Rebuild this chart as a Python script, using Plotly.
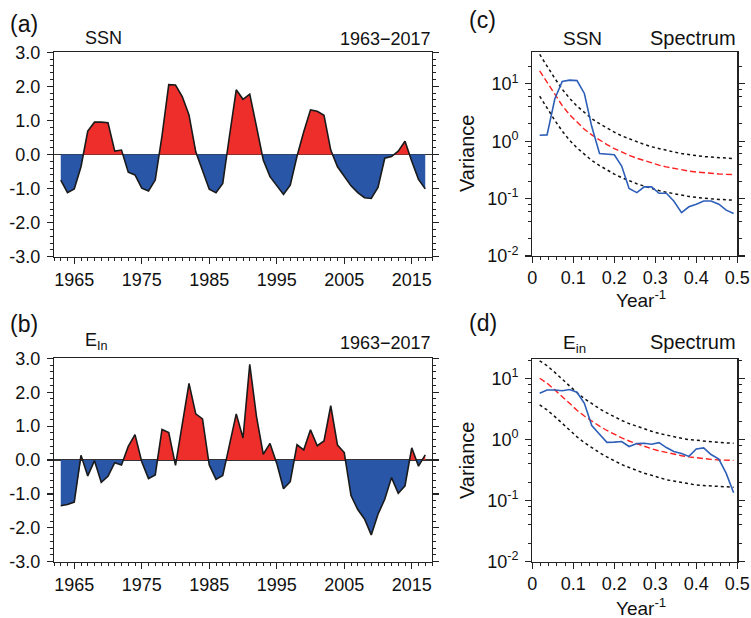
import plotly.graph_objects as go

# ---------------- data ----------------
years = list(range(1963, 2018))
ssn = [-0.75, -1.12, -1.01, -0.36, 0.69, 0.95, 0.95, 0.93, 0.10, 0.13,
       -0.52, -0.60, -0.99, -1.07, -0.75, 0.55, 2.05, 2.04, 1.70, 1.16,
       0.08, -0.45, -1.02, -1.12, -0.85, 0.55, 1.90, 1.62, 1.77, 0.82,
       -0.16, -0.65, -0.90, -1.17, -0.90, -0.05, 0.67, 1.31, 1.27, 1.15,
       0.13, -0.36, -0.64, -0.92, -1.12, -1.27, -1.29, -0.97, -0.11, -0.06,
       0.10, 0.39, -0.20, -0.73, -1.01]
ein = [-1.35, -1.31, -1.24, 0.14, -0.47, -0.02, -0.66, -0.48, -0.08, -0.15,
       0.40, 0.75, -0.05, -0.55, -0.44, 0.90, 0.81, -0.16, 1.05, 2.26,
       1.36, 1.21, -0.15, -0.57, -0.46, 0.45, 1.36, 0.65, 2.82, 1.28,
       0.17, 0.49, -0.10, -0.85, -0.64, 0.45, 0.30, 0.89, 0.42, 0.56,
       1.60, 0.44, 0.22, -1.05, -1.46, -1.74, -2.21, -1.60, -1.16, -0.52,
       -0.98, -0.76, 0.36, -0.18, 0.15]

freq = [0.018, 0.036, 0.055, 0.073, 0.091, 0.109, 0.127, 0.145, 0.164,
        0.182, 0.200, 0.218, 0.236, 0.255, 0.273, 0.291, 0.309, 0.327,
        0.345, 0.364, 0.382, 0.400, 0.418, 0.436, 0.455, 0.473, 0.491]

ssn_spec = [1.27, 1.29, 5.5, 11.0, 11.6, 11.4, 6.8, 1.8, 0.61, 0.59, 0.58, 0.37,
            0.15, 0.127, 0.16, 0.16, 0.124, 0.124, 0.091, 0.057, 0.072, 0.080,
            0.091, 0.091, 0.080, 0.063, 0.055]
ssn_red = [16.9, 10.5, 6.4, 4.18, 2.90, 2.12, 1.62, 1.29, 1.05, 0.875, 0.745,
           0.645, 0.568, 0.506, 0.457, 0.417, 0.384, 0.357, 0.335, 0.317,
           0.302, 0.291, 0.281, 0.274, 0.269, 0.265, 0.262]
ssn_up = [32.6, 20.2, 12.4, 8.07, 5.60, 4.10, 3.14, 2.48, 2.02, 1.69, 1.44,
          1.24, 1.10, 0.98, 0.88, 0.80, 0.74, 0.69, 0.65, 0.61, 0.58, 0.56,
          0.54, 0.53, 0.52, 0.51, 0.50]
ssn_lo = [6.09, 3.77, 2.31, 1.50, 1.04, 0.765, 0.585, 0.463, 0.377, 0.315,
          0.268, 0.232, 0.204, 0.182, 0.165, 0.150, 0.138, 0.129, 0.121,
          0.114, 0.109, 0.105, 0.101, 0.099, 0.097, 0.095, 0.094]

ein_spec = [5.75, 6.5, 6.5, 6.3, 6.6, 5.97, 3.94, 1.70, 1.22, 0.90, 0.91, 0.93,
            0.77, 0.86, 0.87, 0.84, 0.89, 0.74, 0.64, 0.59, 0.53, 0.70, 0.73,
            0.57, 0.48, 0.28, 0.135]
ein_red = [10.1, 8.37, 6.52, 5.00, 3.86, 3.03, 2.43, 1.99, 1.66, 1.41, 1.22,
           1.07, 0.949, 0.851, 0.773, 0.708, 0.655, 0.611, 0.575, 0.545,
           0.520, 0.501, 0.485, 0.474, 0.464, 0.459, 0.456]
ein_up = [19.5, 16.2, 12.6, 9.65, 7.45, 5.85, 4.69, 3.84, 3.20, 2.73, 2.36,
          2.06, 1.83, 1.64, 1.49, 1.37, 1.26, 1.18, 1.11, 1.05, 1.00, 0.97,
          0.94, 0.91, 0.90, 0.88, 0.87]
ein_lo = [3.69, 3.06, 2.38, 1.83, 1.41, 1.11, 0.89, 0.73, 0.61, 0.52, 0.45,
          0.39, 0.35, 0.31, 0.28, 0.26, 0.24, 0.22, 0.21, 0.20, 0.19, 0.18,
          0.177, 0.173, 0.169, 0.167, 0.166]

ytick_vals = [-3, -2, -1, 0, 1, 2, 3]
ytick_text = ["-3.0", "-2.0", "-1.0", "0.0", "1.0", "2.0", "3.0"]
log_vals = [0.01, 0.1, 1, 10]
log_text = ["10<sup>-2</sup>", "10<sup>-1</sup>", "10<sup>0</sup>", "10<sup>1</sup>"]

RED = "#EE2E2B"
BLUE = "#2956A6"
LBLUE = "#2E5FB8"
FONT = "Liberation Sans, Arial, sans-serif"
W, H = 751, 618


def with_crossings(xs, ys):
    """insert zero-crossing points so positive/negative fills meet at 0"""
    ox, oy = [xs[0]], [ys[0]]
    for i in range(1, len(xs)):
        x0, y0, x1, y1 = xs[i - 1], ys[i - 1], xs[i], ys[i]
        if (y0 > 0 > y1) or (y0 < 0 < y1):
            xc = x0 + (x1 - x0) * (0 - y0) / (y1 - y0)
            ox.append(xc)
            oy.append(0.0)
        ox.append(x1)
        oy.append(y1)
    return ox, oy


fig = go.Figure()


def add_area(xs, ys, xa, ya):
    cx, cy = with_crossings(xs, ys)
    pos = [max(v, 0) for v in cy]
    neg = [min(v, 0) for v in cy]
    fig.add_trace(go.Scatter(x=cx, y=pos, mode="lines", line=dict(width=0),
                             fill="tozeroy", fillcolor=RED, xaxis=xa, yaxis=ya,
                             showlegend=False, hoverinfo="skip"))
    fig.add_trace(go.Scatter(x=cx, y=neg, mode="lines", line=dict(width=0),
                             fill="tozeroy", fillcolor=BLUE, xaxis=xa, yaxis=ya,
                             showlegend=False, hoverinfo="skip"))
    fig.add_trace(go.Scatter(x=xs, y=ys, mode="lines",
                             line=dict(color="#1a1a1a", width=1.6),
                             xaxis=xa, yaxis=ya, showlegend=False))


def add_spec(spec, red, up, lo, xa, ya):
    fig.add_trace(go.Scatter(x=freq, y=up, mode="lines",
                             line=dict(color="#111", width=1.5, dash="dot"),
                             xaxis=xa, yaxis=ya, showlegend=False))
    fig.add_trace(go.Scatter(x=freq, y=lo, mode="lines",
                             line=dict(color="#111", width=1.5, dash="dot"),
                             xaxis=xa, yaxis=ya, showlegend=False))
    fig.add_trace(go.Scatter(x=freq, y=red, mode="lines",
                             line=dict(color="#FF2020", width=1.4, dash="6px,3px"),
                             xaxis=xa, yaxis=ya, showlegend=False))
    fig.add_trace(go.Scatter(x=freq, y=spec, mode="lines",
                             line=dict(color=LBLUE, width=1.6),
                             xaxis=xa, yaxis=ya, showlegend=False))


add_area(years, ssn, "x", "y")
add_area(years, ein, "x2", "y2")
add_spec(ssn_spec, ssn_red, ssn_up, ssn_lo, "x3", "y3")
add_spec(ein_spec, ein_red, ein_up, ein_lo, "x4", "y4")


def px_x(p):
    return p / W


def px_y(p):
    return 1 - p / H


tickfont = dict(family=FONT, size=18, color="#111")

ts_x = dict(range=[1962, 2018], tickmode="linear", tick0=1965, dtick=10,
            ticks="outside", ticklen=6, tickwidth=1.2, tickcolor="#222",
            minor=dict(tickmode="linear", tick0=1965, dtick=1, ticks="outside",
                       ticklen=3, tickwidth=1, tickcolor="#222"),
            showline=True, linecolor="#222", linewidth=1.2, mirror=True,
            showgrid=False, zeroline=False, tickfont=tickfont)
ts_y = dict(range=[-3, 3], tickmode="array", tickvals=ytick_vals,
            ticktext=ytick_text, ticks="outside", ticklen=6, tickwidth=1.2,
            tickcolor="#222",
            minor=dict(tickmode="linear", tick0=0, dtick=0.2, ticks="outside",
                       ticklen=3, tickwidth=1, tickcolor="#222"),
            showline=True, linecolor="#222", linewidth=1.2, mirror="ticks",
            showgrid=False, zeroline=True, zerolinecolor="#333",
            zerolinewidth=1.3, layer="above traces", tickfont=tickfont,
            ticklabelstandoff=3)

minor_log = [m * 10.0 ** e for e in range(-2, 2) for m in (2, 4, 6, 8)]
sp_x = dict(range=[0, 0.5], tickmode="linear", tick0=0, dtick=0.1,
            ticks="outside", ticklen=6, tickwidth=1.2, tickcolor="#222",
            minor=dict(tickmode="linear", tick0=0, dtick=0.02, ticks="outside",
                       ticklen=3, tickwidth=1, tickcolor="#222"),
            showline=True, linecolor="#222", linewidth=1.2, mirror=True,
            showgrid=False, zeroline=False, tickfont=tickfont,
            ticklabelstandoff=-1)
sp_y = dict(type="log", tickmode="array", tickvals=log_vals, ticktext=log_text,
            ticks="outside", ticklen=6, tickwidth=1.2, tickcolor="#222",
            minor=dict(tickmode="array", tickvals=minor_log, ticks="outside",
                       ticklen=3, tickwidth=1, tickcolor="#222"),
            showline=True, linecolor="#222", linewidth=1.2, mirror="ticks",
            showgrid=False, zeroline=False, tickfont=tickfont,
            ticklabelstandoff=3)

fig.update_layout(
    width=W, height=H,
    margin=dict(l=0, r=0, t=0, b=0, pad=0, autoexpand=False),
    paper_bgcolor="white", plot_bgcolor="white",
    font=dict(family=FONT, color="#111"),
    xaxis=dict(ts_x, domain=[px_x(54), px_x(432)], anchor="y"),
    yaxis=dict(ts_y, domain=[px_y(256.7), px_y(52.3)], anchor="x"),
    xaxis2=dict(ts_x, domain=[px_x(54), px_x(432)], anchor="y2"),
    yaxis2=dict(ts_y, domain=[px_y(561.7), px_y(358.3)], anchor="x2"),
    xaxis3=dict(sp_x, domain=[px_x(532.3), px_x(737.3)], anchor="y3"),
    yaxis3=dict(sp_y, range=[-2, 1.55], domain=[px_y(256), px_y(52.3)],
                anchor="x3"),
    xaxis4=dict(sp_x, domain=[px_x(532.3), px_x(737.3)], anchor="y4"),
    yaxis4=dict(sp_y, range=[-2, 1.32], domain=[px_y(561.7), px_y(359)],
                anchor="x4"),
)


def note(text, x, y, size, xanchor="left", angle=0):
    fig.add_annotation(text=text, x=px_x(x), y=px_y(y), xref="paper",
                       yref="paper", xanchor=xanchor, yanchor="middle",
                       showarrow=False, textangle=angle,
                       font=dict(family=FONT, size=size, color="#111"))


note("(a)", 8, 24, 23)
note("SSN", 83, 38, 18)
note("1963\u22122017", 433, 39, 18, "right")
note("(b)", 8, 324, 23)
note("E<sub>In</sub>", 83, 341, 18)
note("1963\u22122017", 433, 343, 18, "right")
note("(c)", 467, 20, 23)
note("SSN", 561, 38, 19)
note("Spectrum", 738, 38, 20, "right")
note("Variance", 467, 154, 20, "center", -90)
note("Year<sup>-1</sup>", 641, 299, 19, "center")
note("(d)", 467, 323, 23)
note("E<sub>in</sub>", 561, 344, 19)
note("Spectrum", 738, 342, 20, "right")
note("Variance", 467, 461, 20, "center", -90)
note("Year<sup>-1</sup>", 641, 607, 19, "center")

fig.write_html("out.html",
               config={"displayModeBar": False, "staticPlot": True},
               post_script="document.body.style.margin='0';"
                           "document.body.style.overflow='hidden';")
